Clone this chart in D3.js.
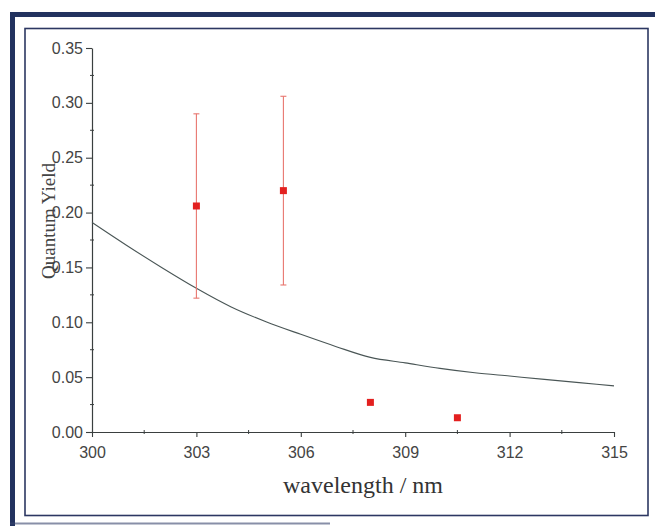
<!DOCTYPE html>
<html>
<head>
<meta charset="utf-8">
<script src="https://cdn.jsdelivr.net/npm/d3@7"></script>
<style>
  html, body { margin: 0; padding: 0; background: #ffffff; }
  svg { display: block; }
</style>
</head>
<body>
<svg id="chart" width="655" height="526"></svg>
<script>
// Measured quantum yields (red squares) with their uncertainties
const markWavelength = [303, 305.5, 308, 310.5];
const markYield      = [0.206, 0.220, 0.027, 0.013];
const markError      = [0.084, 0.086, 0, 0];

// Model quantum-yield curve
const curveWavelength = [300, 301, 302, 303, 304, 305, 306, 307, 308, 309, 310, 311, 312, 313, 314, 315];
const curveYield      = [0.191, 0.170, 0.150, 0.131, 0.114, 0.1005, 0.089, 0.078, 0.068, 0.063, 0.058, 0.054, 0.051, 0.048, 0.045, 0.042];

// Axis ticks
const xTicks = [300, 303, 306, 309, 312, 315];
const xMinorTicks = [301.5, 304.5, 307.5, 310.5, 313.5];
const yTicks = [0, 0.05, 0.10, 0.15, 0.20, 0.25, 0.30, 0.35];
const yMinorTicks = [0.025, 0.075, 0.125, 0.175, 0.225, 0.275, 0.325];

const svg = d3.select("#chart");

// Plot frame (outer heavy border and inner thin border)
svg.append("path")
  .attr("d", "M12.5,526 L12.5,14.5 L655,14.5")
  .attr("fill", "none")
  .attr("stroke", "#22325f")
  .attr("stroke-width", 5);
svg.append("line")
  .attr("x1", 10).attr("x2", 330).attr("y1", 523.5).attr("y2", 523.5)
  .attr("stroke", "#3a4670").attr("stroke-width", 2).attr("opacity", 0.6);
svg.append("rect")
  .attr("x", 25).attr("y", 28.5).attr("width", 623).attr("height", 487)
  .attr("fill", "none")
  .attr("stroke", "#2c3762")
  .attr("stroke-width", 1.6);

const x = d3.scaleLinear().domain([300, 315]).range([92, 614]);
const y = d3.scaleLinear().domain([0, 0.35]).range([432, 48]);

const axisColor = "#3a3f3f";
const labelColor = "#444";

// Minor ticks, crossing the axis lines
svg.append("g").selectAll("line").data(xMinorTicks).join("line")
  .attr("x1", d => x(d)).attr("x2", d => x(d))
  .attr("y1", y(0) - 2).attr("y2", y(0) + 2)
  .attr("stroke", axisColor).attr("stroke-width", 1);
svg.append("g").selectAll("line").data(yMinorTicks).join("line")
  .attr("x1", x(300) - 2).attr("x2", x(300) + 2)
  .attr("y1", d => y(d)).attr("y2", d => y(d))
  .attr("stroke", axisColor).attr("stroke-width", 1);

// Bottom axis
const gx = svg.append("g")
  .attr("transform", `translate(0,${y(0)})`)
  .call(d3.axisBottom(x).tickValues(xTicks).tickFormat(d3.format("d"))
    .tickSizeInner(5).tickSizeOuter(0).tickPadding(10));

// Left axis
const gy = svg.append("g")
  .attr("transform", `translate(${x(300)},0)`)
  .call(d3.axisLeft(y).tickValues(yTicks).tickFormat(d3.format(".2f"))
    .tickSizeInner(6).tickSizeOuter(0).tickPadding(3));

[gx, gy].forEach(g => {
  g.select(".domain").attr("stroke", axisColor).attr("stroke-width", 1.2);
  g.selectAll(".tick line").attr("stroke", axisColor).attr("stroke-width", 1.1);
  g.selectAll(".tick text")
    .attr("fill", labelColor)
    .style("font-family", "'Liberation Sans', Arial, sans-serif")
    .style("font-size", "16px");
});

// Axis titles
svg.append("text")
  .attr("x", 363).attr("y", 493)
  .attr("text-anchor", "middle")
  .style("font-family", "'Liberation Serif', 'Times New Roman', serif")
  .style("font-size", "24px")
  .attr("fill", "#333")
  .text("wavelength / nm");

svg.append("text")
  .attr("transform", "translate(55,221) rotate(-90)")
  .attr("text-anchor", "middle")
  .style("font-family", "'Liberation Serif', 'Times New Roman', serif")
  .style("font-size", "19px")
  .attr("fill", "#444")
  .text("Quantum Yield");

// Model curve
const curveData = curveWavelength.map((w, i) => [w, curveYield[i]]);
svg.append("path")
  .datum(curveData)
  .attr("fill", "none")
  .attr("stroke", "#4a5656")
  .attr("stroke-width", 1.1)
  .attr("d", d3.line().curve(d3.curveMonotoneX).x(d => x(d[0])).y(d => y(d[1])));

// Measurements with error bars
const marks = markWavelength.map((w, i) => ({ w, v: markYield[i], e: markError[i] }));
const errColor = "#e8766f";
const bars = svg.append("g").selectAll("g").data(marks.filter(d => d.e > 0)).join("g");
bars.append("line")
  .attr("x1", d => x(d.w)).attr("x2", d => x(d.w))
  .attr("y1", d => y(d.v + d.e)).attr("y2", d => y(d.v - d.e))
  .attr("stroke", errColor).attr("stroke-width", 1.1);
bars.selectAll(".cap").data(d => [{ w: d.w, v: d.v + d.e }, { w: d.w, v: d.v - d.e }]).join("line")
  .attr("class", "cap")
  .attr("x1", d => x(d.w) - 3).attr("x2", d => x(d.w) + 3)
  .attr("y1", d => y(d.v)).attr("y2", d => y(d.v))
  .attr("stroke", errColor).attr("stroke-width", 1.1);

svg.append("g").selectAll("rect").data(marks).join("rect")
  .attr("x", d => x(d.w) - 3.5).attr("y", d => y(d.v) - 3.5)
  .attr("width", 7).attr("height", 7)
  .attr("fill", "#e3201f");
</script>
</body>
</html>
